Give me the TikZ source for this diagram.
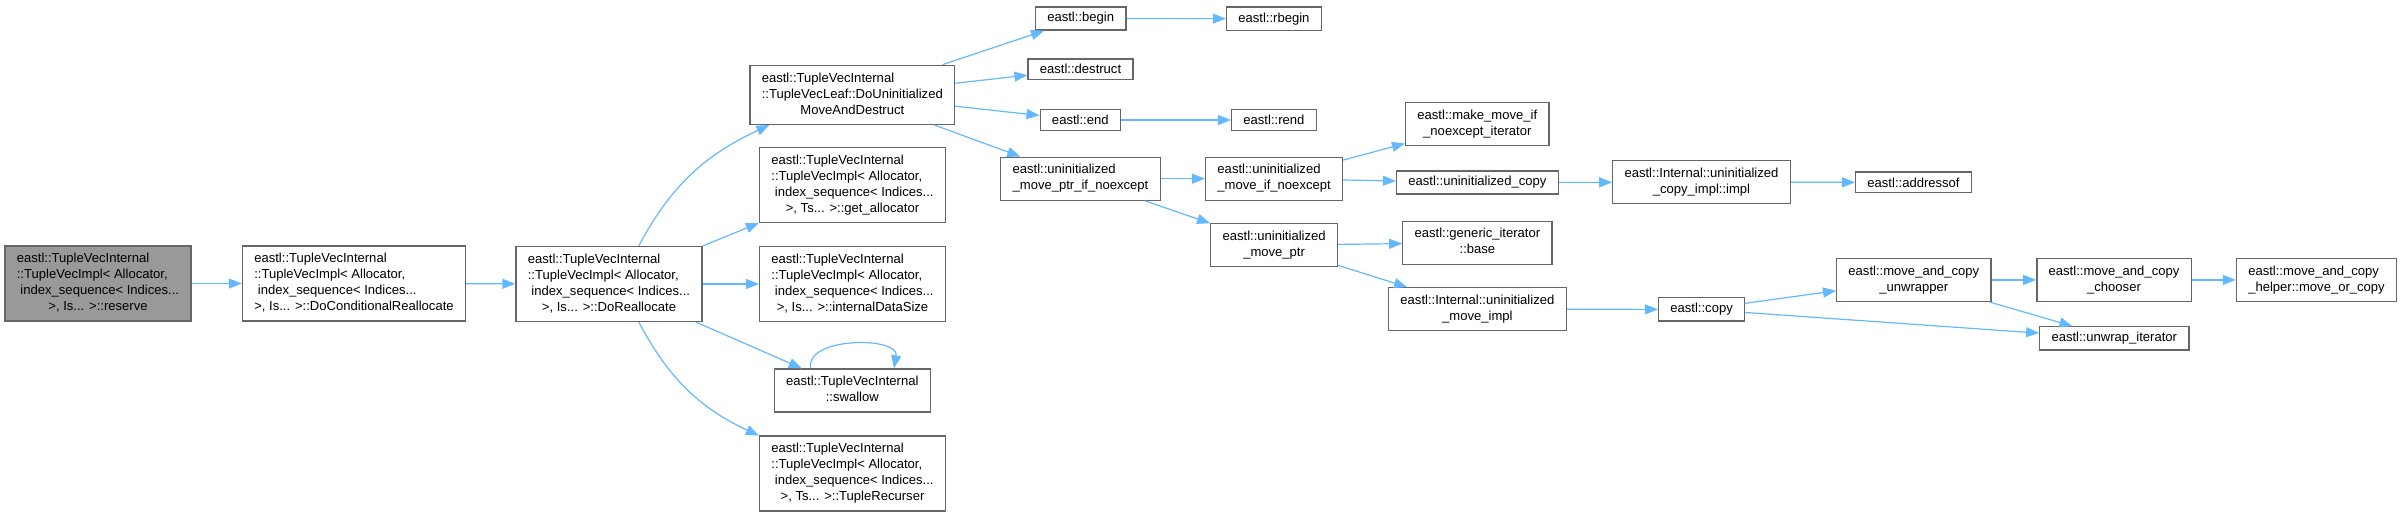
\documentclass[tikz,border=0pt]{standalone}
\usepackage{fontspec}
\setmainfont{Liberation Sans}
\usetikzlibrary{arrows.meta}
\definecolor{edgeblue}{HTML}{63B8FF}
\definecolor{boxgray}{HTML}{666666}
\definecolor{rootgray}{HTML}{999999}
% label lines: left aligned, the last one centred
\newcommand{\flines}[1]{\begin{tabular}{@{}l@{}}#1\end{tabular}}
\newcommand{\lastln}[1]{\multicolumn{1}{@{}c@{}}{#1}}
\tikzset{
  fn/.style={draw=boxgray, line width=0.65pt, fill=white, inner xsep=5.9pt, inner ysep=2.75pt,
    font=\fontsize{6.53}{8}\selectfont},
  root/.style={fn, fill=rootgray},
  call/.style={draw=edgeblue, line width=0.6pt, -{Triangle[length=6.5pt,width=5pt]}}
}
\begin{document}
\begin{tikzpicture}[x=0.5pt, y=-0.5pt]
            \useasboundingbox (0,0) rectangle (2400,516);
            % first column
            \node[root] (reserve) at (98,283.5) {\flines{eastl::TupleVecInternal\\::TupleVecImpl< Allocator,\\\ index\_sequence< Indices...\\\lastln{>, Is... >::reserve}}};
            \node[fn] (condre) at (354,283.5) {\flines{eastl::TupleVecInternal\\::TupleVecImpl< Allocator,\\\ index\_sequence< Indices...\\\lastln{>, Is... >::DoConditionalReallocate}}};
            \node[fn] (realloc) at (609,284) {\flines{eastl::TupleVecInternal\\::TupleVecImpl< Allocator,\\\ index\_sequence< Indices...\\\lastln{>, Is... >::DoReallocate}}};
            % callees of DoReallocate
            \node[fn] (uninit) at (852.3,94.8) {\flines{eastl::TupleVecInternal\\::TupleVecLeaf::DoUninitialized\\\lastln{MoveAndDestruct}}};
            \node[fn] (getalloc) at (852.5,185) {\flines{eastl::TupleVecInternal\\::TupleVecImpl< Allocator,\\\ index\_sequence< Indices...\\\lastln{>, Ts... >::get\_allocator}}};
            \node[fn] (datasize) at (852.5,284) {\flines{eastl::TupleVecInternal\\::TupleVecImpl< Allocator,\\\ index\_sequence< Indices...\\\lastln{>, Is... >::internalDataSize}}};
            \node[fn] (swallow) at (852.3,390.5) {\flines{eastl::TupleVecInternal\\\lastln{::swallow}}};
            \node[fn] (recurser) at (852.5,473.4) {\flines{eastl::TupleVecInternal\\::TupleVecImpl< Allocator,\\\ index\_sequence< Indices...\\\lastln{>, Ts... >::TupleRecurser}}};
            % callees of DoUninitializedMoveAndDestruct
            \node[fn] (begin) at (1080.7,18.5) {eastl::begin};
            \node[fn] (destruct) at (1080.5,69.2) {eastl::destruct};
            \node[fn] (end) at (1080.3,120) {eastl::end};
            \node[fn] (umpin) at (1080.5,178.7) {\flines{eastl::uninitialized\\\lastln{\_move\_ptr\_if\_noexcept}}};
            \node[fn] (rbegin) at (1273.9,18.7) {eastl::rbegin};
            \node[fn] (rend) at (1273.9,120) {eastl::rend};
            \node[fn] (umin) at (1274.1,178.7) {\flines{eastl::uninitialized\\\lastln{\_move\_if\_noexcept}}};
            \node[fn] (ump) at (1274.1,245.2) {\flines{eastl::uninitialized\\\lastln{\_move\_ptr}}};
            % next column
            \node[fn] (makemove) at (1477.3,124) {\flines{eastl::make\_move\_if\\\lastln{\_noexcept\_iterator}}};
            \node[fn] (ucopy) at (1477.4,182.5) {eastl::uninitialized\_copy};
            \node[fn] (genbase) at (1477.4,242.7) {\flines{eastl::generic\_iterator\\\lastln{::base}}};
            \node[fn] (moveimpl) at (1477.4,309.2) {\flines{eastl::Internal::uninitialized\\\lastln{\_move\_impl}}};
            \node[fn] (copyimpl) at (1701.5,182.2) {\flines{eastl::Internal::uninitialized\\\lastln{\_copy\_impl::impl}}};
            \node[fn] (copy) at (1701.6,309.4) {eastl::copy};
            \node[fn] (addressof) at (1913.5,182.4) {eastl::addressof};
            \node[fn] (unwrapper) at (1913.8,279.9) {\flines{eastl::move\_and\_copy\\\lastln{\_unwrapper}}};
            \node[fn] (chooser) at (2114,279.9) {\flines{eastl::move\_and\_copy\\\lastln{\_chooser}}};
            \node[fn] (helper) at (2316.5,279.9) {\flines{eastl::move\_and\_copy\\\lastln{\_helper::move\_or\_copy}}};
            \node[fn] (unwrapit) at (2114.3,338.4) {eastl::unwrap\_iterator};
            % calls
            \draw[call] (reserve) -- (condre);
            \draw[call] (condre) -- (realloc);
            \draw[call] (realloc.52) to[out=62, in=205] (uninit.200);
            \draw[call] (realloc) -- (getalloc);
            \draw[call] (realloc) -- (datasize);
            \draw[call] (realloc) -- (swallow);
            \draw[call] (realloc.-52) to[out=-62, in=155] (recurser.158);
            \draw[call] (swallow.152) to[out=100, in=80] (swallow.28);
            \draw[call] (uninit) -- (begin);
            \draw[call] (uninit) -- (destruct);
            \draw[call] (uninit) -- (end);
            \draw[call] (uninit) -- (umpin);
            \draw[call] (begin) -- (rbegin);
            \draw[call] (end) -- (rend);
            \draw[call] (umpin) -- (umin);
            \draw[call] (umpin) -- (ump);
            \draw[call] (umin) -- (makemove);
            \draw[call] (umin) -- (ucopy);
            \draw[call] (ucopy) -- (copyimpl);
            \draw[call] (copyimpl) -- (addressof);
            \draw[call] (ump) -- (genbase);
            \draw[call] (ump) -- (moveimpl);
            \draw[call] (moveimpl) -- (copy);
            \draw[call] (copy) -- (unwrapper);
            \draw[call] (copy) -- (unwrapit);
            \draw[call] (unwrapper) -- (chooser);
            \draw[call] (unwrapper) -- (unwrapit);
            \draw[call] (chooser) -- (helper);
\end{tikzpicture}
\end{document}
